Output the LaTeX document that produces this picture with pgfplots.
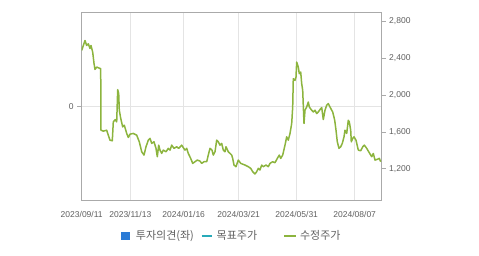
\documentclass[border=0pt]{standalone}
\usepackage{pgfplots}
\pgfplotsset{compat=1.18}
\usepackage{fontspec}
\setmainfont{Liberation Sans}
\newfontfamily\kr{Noto Sans CJK KR}
\definecolor{framegray}{RGB}{170,170,170}
\definecolor{gridgray}{RGB}{228,228,228}
\definecolor{labgray}{RGB}{95,95,95}
\definecolor{linegreen}{RGB}{140,180,62}
\definecolor{legblue}{RGB}{43,123,214}
\definecolor{legteal}{RGB}{40,170,185}
\begin{document}
\begin{tikzpicture}
\useasboundingbox (-81.7pt,-54.3pt) rectangle (397.3pt,200.7pt);
% left (secondary) axis: investment opinion
\begin{axis}[
  at={(0pt,0pt)}, anchor=south west,
  scale only axis, width=300pt, height=188pt,
  xmin=0, xmax=300, ymin=-1, ymax=1,
  hide x axis,
  axis line style={draw=none},
  ytick={0}, yticklabels={0},
  ytick pos=left,
  tick align=outside,
  major tick length=4.5pt,
  ytick style={draw=framegray, line width=0.6pt},
  ymajorgrids,
  grid style={draw=gridgray, line width=0.6pt},
  yticklabel style={font=\fontsize{8.5}{10}\selectfont, text=labgray},
]
\addplot[draw=none] coordinates {(0,0)};
\end{axis}
% main axis: adjusted price (right)
\begin{axis}[
  at={(0pt,0pt)}, anchor=south west,
  scale only axis, width=300pt, height=188pt,
  xmin=0, xmax=300, ymin=853, ymax=2893,
  axis line style={draw=framegray, line width=0.6pt},
  xtick={0,48.6,102,157,215,273},
  xticklabels={2023/09/11,2023/11/13,2024/01/16,2024/03/21,2024/05/31,2024/08/07},
  xtick style={draw=none},
  xmajorgrids,
  grid style={draw=gridgray, line width=0.6pt},
  ytick={1200,1600,2000,2400,2800},
  ytick pos=right, yticklabel pos=right,
  tick align=outside,
  major tick length=4pt,
  ytick style={draw=framegray, line width=0.6pt},
  scaled y ticks=false,
  /pgf/number format/1000 sep={,},
  /pgf/number format/assume math mode=true,
  xticklabel style={font=\fontsize{8.5}{10}\selectfont, text=labgray, yshift=-3pt},
  yticklabel style={font=\fontsize{8.5}{10}\selectfont, text=labgray},
  legend style={draw=none, fill=none, legend columns=3,
    at={(0.4965,-0.186)}, anchor=center,
    font=\kr\fontsize{11}{13}\selectfont, text=labgray,
    nodes={inner sep=0pt}},
]
\addlegendimage{legend image code/.code={\fill[legblue] (0pt,-3.7pt) rectangle (7.7pt,3.7pt);}}
\addlegendentry{\kern7pt 투자의견(좌)\kern6.7pt}
\addlegendimage{legend image code/.code={\draw[legteal, line width=1.8pt] (0pt,0pt) -- (10.3pt,0pt);}}
\addlegendentry{\kern4pt 목표주가\kern26pt}
\addplot[linegreen, line width=1.5pt, line join=round,
  legend image code/.code={\draw[linegreen, line width=1.8pt] (0pt,0pt) -- (12pt,0pt);}]
coordinates {
(0,2483) (3.3,2591) (5,2537) (6.6,2556) (8.3,2505) (9.3,2537) (11,2465) (12.3,2343)
(13.3,2278) (15,2303) (19,2285) (19.3,1618) (21.6,1608) (25,1618) (26.6,1564) (28.3,1510)
(30.6,1503) (31.6,1708) (33.6,1734) (35,1708) (36,2058) (37,2015) (37.6,1835) (39,1748)
(41,1654) (42.6,1672) (45,1583) (46.6,1539) (48.3,1575)
(51.6,1583) (55,1564) (57.6,1492) (60,1384) (62.3,1348) (64.3,1438) (66.6,1510) (68.3,1529)
(70,1475) (72.3,1492) (74.3,1421) (75.6,1330) (77,1456) (78.3,1402) (80,1366) (81.6,1402)
(84.3,1384) (86.6,1421) (88.3,1402) (90,1456) (92.3,1421) (95,1438) (97,1421) (100,1456)
(101,1438) (103.3,1402) (105,1421) (106.6,1366) (109,1312) (111,1258) (113.3,1276) (115.6,1294)
(118.3,1283) (120,1258) (122.3,1276) (125,1276) (126.6,1348) (128.3,1421) (130.3,1402) (131.6,1348)
(133.3,1384) (135,1510) (136.6,1492) (138.3,1456) (140,1475) (141.6,1402) (143.3,1384) (144.3,1438)
(146.6,1384) (150,1348)
(151,1312) (152.3,1240) (154.3,1222) (156.6,1294) (159,1258) (163.3,1240) (166.6,1222) (169,1204)
(171,1168) (173.3,1143) (175,1168) (176.6,1204) (178.3,1186) (180,1240) (181.6,1222) (184.3,1240)
(186.6,1222) (188.3,1258) (191,1276) (193.3,1265) (195.6,1312) (197.6,1348) (199,1312)
(201,1348) (203.3,1456) (205,1546) (206.6,1510) (208.3,1583) (210,1691) (211,1870) (211.6,2177)
(213.3,2159) (214.3,2195) (215,2357) (216.6,2303) (217.6,2231) (219,2249) (220,2123) (221,2051)
(222.3,1691) (223.3,1835) (225,1870) (226.6,1924) (227.6,1870) (230,1835) (231.6,1816) (233.3,1835)
(235,1799) (236.6,1816) (238.3,1842) (240,1864) (241.6,1734) (243.3,1835) (245,1889) (246.6,1907)
(248.3,1870) (250,1835)
(251,1816) (253,1726) (254.3,1618) (255.6,1492) (257.3,1421) (259,1438) (260.6,1475) (262.3,1546)
(263.3,1618) (265,1583) (266.6,1726) (267.6,1708) (269,1618) (269.6,1492) (271,1529) (272.3,1546)
(274.3,1510) (276.6,1402) (279,1395) (281,1438) (282.6,1456) (285,1421) (287.6,1373) (290,1330)
(291.6,1366) (293.3,1294) (295.6,1302) (297.6,1312) (299,1276)
};
\addlegendentry{\kern3pt 수정주가}
\end{axis}
\end{tikzpicture}
\end{document}
